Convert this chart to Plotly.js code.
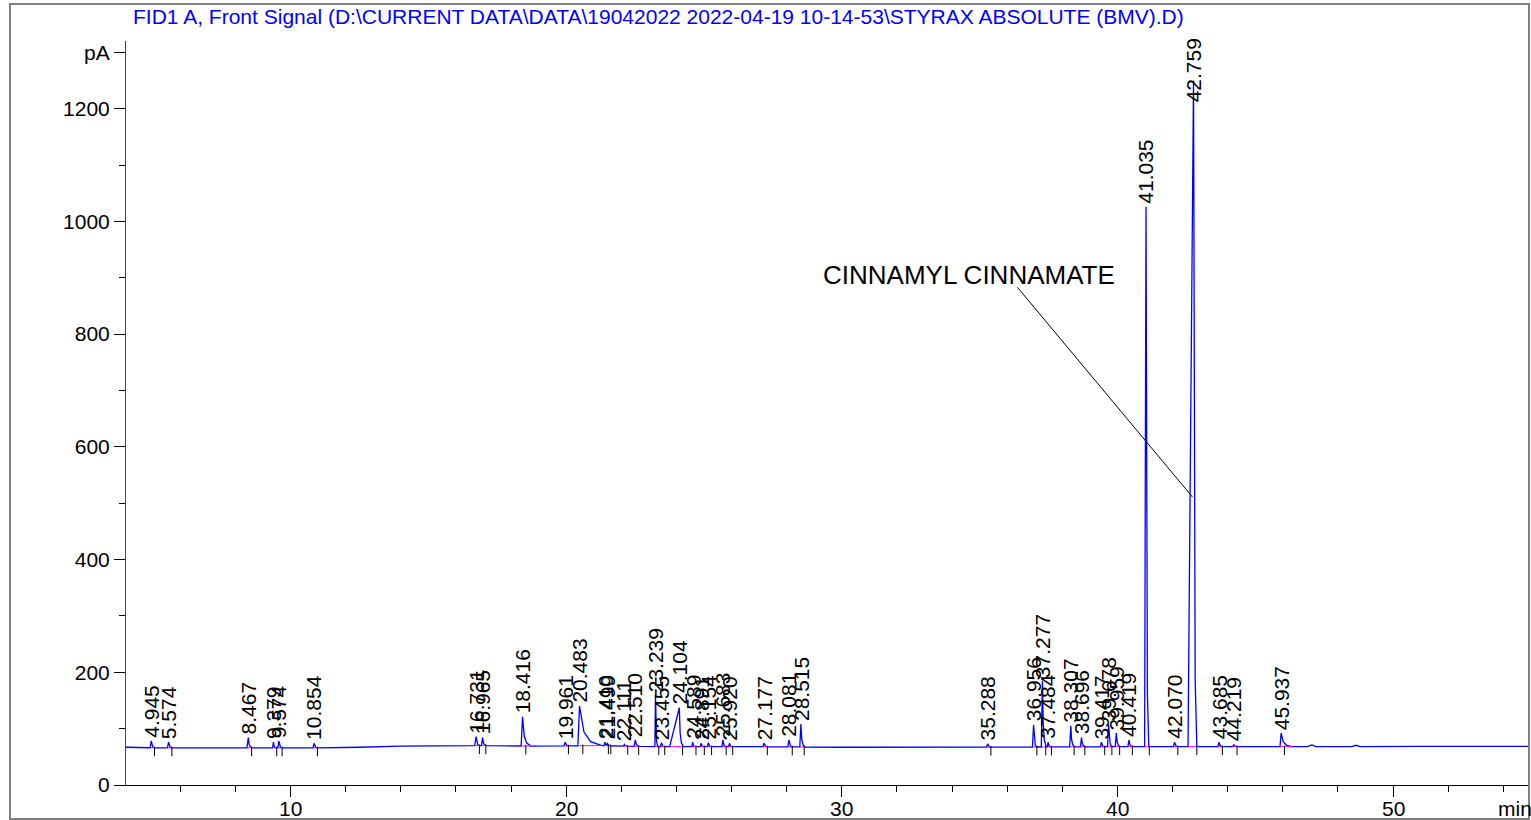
<!DOCTYPE html>
<html>
<head>
<meta charset="utf-8">
<script src="https://cdn.plot.ly/plotly-3.0.1.min.js"></script>
<style>html,body{margin:0;padding:0;background:#fff;}#chart{width:1531px;height:820px;}</style>
</head>
<body>
<div id="chart"></div>
<script>
// ---- data ----
const chartTitle = 'FID1 A, Front Signal (D:\\CURRENT DATA\\DATA\\19042022 2022-04-19 10-14-53\\STYRAX ABSOLUTE (BMV).D)';
const peakRT = [4.945, 5.574, 8.467, 9.379, 9.574, 10.854, 16.731, 16.965, 18.416, 19.961,
  20.483, 21.410, 21.499, 22.111, 22.510, 23.239, 23.455, 24.104, 24.589, 24.891,
  25.154, 25.683, 25.920, 27.177, 28.081, 28.515, 35.288, 36.956, 37.277, 37.484,
  38.307, 38.696, 39.417, 39.678, 39.959, 40.419, 41.035, 42.070, 42.759, 43.685,
  44.219, 45.937];
const peakHeight = [78, 76, 84, 76, 78, 74, 86, 84, 121, 76,
  140, 76, 75, 72, 80, 160, 75, 137, 76, 74,
  75, 80, 74, 74, 80, 108, 73, 107, 185, 76,
  105, 84, 76, 107, 92, 80, 1026, 76, 1250, 76,
  72, 92];
const peakRise = [0.04, 0.04, 0.05, 0.03, 0.03, 0.04, 0.05, 0.04, 0.05, 0.04,
  0.06, 0.04, 0.03, 0.04, 0.05, 0.02, 0.03, 0.35, 0.03, 0.03,
  0.03, 0.03, 0.03, 0.04, 0.04, 0.04, 0.04, 0.04, 0.04, 0.03,
  0.04, 0.04, 0.03, 0.04, 0.04, 0.04, 0.05, 0.04, 0.20, 0.04,
  0.04, 0.04];
const peakTail = [0.12, 0.12, 0.15, 0.10, 0.12, 0.12, 0.12, 0.15, 0.30, 0.12,
  0.80, 0.10, 0.12, 0.10, 0.15, 0.08, 0.10, 0.15, 0.10, 0.10,
  0.10, 0.10, 0.10, 0.12, 0.12, 0.15, 0.12, 0.12, 0.14, 0.12,
  0.14, 0.14, 0.10, 0.12, 0.14, 0.14, 0.10, 0.12, 0.12, 0.15,
  0.12, 0.40];
const baseT = [4.03, 5.0, 8.0, 11.0, 12.5, 14.0, 16.5, 19.0, 21.3, 23.0, 27.0, 30.0, 35.0, 40.0, 45.0, 46.9, 47.05, 47.2, 48.5, 48.65, 48.8, 51.0, 54.93];
const baseY = [67, 66, 66, 66, 67, 69, 70, 69, 70, 68, 68, 67, 67, 68, 68, 68, 71, 68, 68, 70.5, 68, 68.5, 68.5];
const noteText = 'CINNAMYL CINNAMATE';
const noteX = 34.63, noteY = 905;          // label centre
const noteFromX = 36.37, noteFromY = 883;  // line start near label
const noteToX = 42.72, noteToY = 511;      // line end on the 42.759 peak
const xTickVals = [10, 20, 30, 40, 50];
const xTickText = ['10', '20', '30', '40', '50'];
const yTickVals = [0, 200, 400, 600, 800, 1000, 1200, 1300];
const yTickText = ['0', '200', '400', '600', '800', '1000', '1200', 'pA'];

// ---- helpers ----
function baseAt(t) {
  if (t <= baseT[0]) return baseY[0];
  for (let i = 1; i < baseT.length; i++) {
    if (t <= baseT[i]) {
      const f = (t - baseT[i - 1]) / (baseT[i] - baseT[i - 1]);
      return baseY[i - 1] + f * (baseY[i] - baseY[i - 1]);
    }
  }
  return baseY[baseY.length - 1];
}

// ---- build signal vertices ----
let pts = [];
baseT.forEach((t, i) => {
  const inside = peakRT.some((rt, k) => t > rt - peakRise[k] && t < rt + peakTail[k]);
  if (!inside) pts.push([t, baseY[i]]);
});
peakRT.forEach((rt, k) => {
  const h = peakHeight[k], r = peakRise[k], tl = peakTail[k];
  const b0 = baseAt(rt - r), b1 = baseAt(rt + tl), d = h - baseAt(rt);
  pts.push([rt - r, b0]);
  pts.push([rt, h]);
  pts.push([rt + 0.2 * tl, baseAt(rt + 0.2 * tl) + 0.35 * d]);
  pts.push([rt + 0.5 * tl, baseAt(rt + 0.5 * tl) + 0.1 * d]);
  pts.push([rt + tl, b1]);
});
pts.sort((a, b) => a[0] - b[0]);

const signal = {
  x: pts.map(p => p[0]), y: pts.map(p => p[1]),
  type: 'scatter', mode: 'lines',
  line: {color: '#0000ff', width: 1.3},
  hoverinfo: 'skip', showlegend: false
};

// integration baselines (magenta) and event ticks (black)
const bx = [], by = [], tx = [], ty = [];
peakRT.forEach((rt, k) => {
  const a = rt - peakRise[k], e = rt + peakTail[k];
  bx.push(a, e, null); by.push(baseAt(a), baseAt(e), null);
  const te = rt + 0.12;
  tx.push(te, te, null); ty.push(baseAt(te) + 2, baseAt(te) - 15, null);
});
const baselines = {x: bx, y: by, type: 'scatter', mode: 'lines', line: {color: '#ff00ff', width: 1}, hoverinfo: 'skip', showlegend: false};
const ticks = {x: tx, y: ty, type: 'scatter', mode: 'lines', line: {color: '#000000', width: 1}, hoverinfo: 'skip', showlegend: false};

const FONT = 'Liberation Sans, Arial, sans-serif';
const annotations = peakRT.map((rt, k) => ({
  x: rt, y: Math.min(peakHeight[k], 1205), xref: 'x', yref: 'y',
  text: rt.toFixed(3), textangle: -90, showarrow: false,
  xanchor: 'center', yanchor: 'bottom', yshift: 2, borderpad: 0,
  font: {family: FONT, size: 21, color: '#000'}
}));
annotations.push({
  x: noteX, y: noteY, xref: 'x', yref: 'y', text: noteText, showarrow: false,
  xanchor: 'center', yanchor: 'middle', font: {family: FONT, size: 26, color: '#000'}
});
// x tick labels (drawn as text so they sit above the outer frame)
xTickVals.forEach((v, i) => annotations.push({
  x: v, y: -0.031, xref: 'x', yref: 'paper', text: xTickText[i], showarrow: false,
  xanchor: 'center', yanchor: 'middle', borderpad: 0, font: {family: FONT, size: 21, color: '#000'}
}));
annotations.push({
  x: 1, y: -0.031, xref: 'paper', yref: 'paper', text: 'min', showarrow: false,
  xanchor: 'right', yanchor: 'middle', xshift: 4, borderpad: 0, font: {family: FONT, size: 21, color: '#000'}
});

const layout = {
  width: 1531, height: 820,
  margin: {l: 126, r: 2, t: 41, b: 35},
  paper_bgcolor: '#fff', plot_bgcolor: '#fff',
  font: {family: FONT, size: 21, color: '#000'},
  title: {text: chartTitle, x: 133 / 1531, xref: 'container', xanchor: 'left',
    y: 1 - 17 / 820, yref: 'container', yanchor: 'middle',
    font: {family: FONT, size: 21, color: '#0000ff'}},
  xaxis: {range: [4.03, 54.93], tickmode: 'array', tickvals: xTickVals, showticklabels: false,
    ticks: 'outside', ticklen: 11, tickwidth: 1, tickcolor: '#000',
    minor: {dtick: 2, tick0: 0, ticks: 'outside', ticklen: 6, tickcolor: '#000'},
    showline: true, linecolor: '#000', linewidth: 1, showgrid: false, zeroline: false},
  yaxis: {range: [0, 1320], tickmode: 'array', tickvals: yTickVals, ticktext: yTickText,
    ticks: 'outside', ticklen: 11, tickwidth: 1, tickcolor: '#000',
    minor: {tickmode: 'array', tickvals: [100, 300, 500, 700, 900, 1100], ticks: 'outside', ticklen: 6, tickcolor: '#000'},
    showline: true, linecolor: '#444', linewidth: 1, showgrid: false, zeroline: false,
    tickfont: {family: FONT, size: 21, color: '#000'}},
  annotations: annotations,
  shapes: [
    {type: 'line', xref: 'x', yref: 'y', x0: noteFromX, y0: noteFromY, x1: noteToX, y1: noteToY,
      line: {color: '#000', width: 1}},
    {type: 'rect', xref: 'paper', yref: 'paper', x0: -116 / 1403, x1: 1.0, y0: -34 / 744, y1: 781 / 744,
      line: {color: '#808080', width: 2}, fillcolor: 'rgba(0,0,0,0)', layer: 'above'}
  ],
  showlegend: false
};

Plotly.newPlot('chart', [signal, baselines, ticks], layout, {staticPlot: true, displayModeBar: false});
</script>
</body>
</html>
